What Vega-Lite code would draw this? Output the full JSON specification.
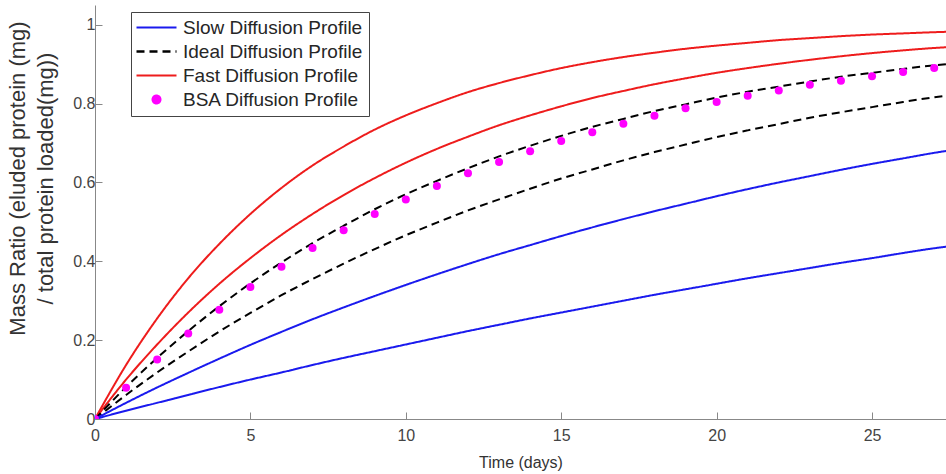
{
  "$schema": "https://vega.github.io/schema/vega-lite/v6.json",
  "width": 851,
  "height": 414,
  "autosize": {"type": "none"},
  "padding": {"left": 95, "top": 5, "right": 0, "bottom": 55},
  "background": "white",
  "config": {
    "view": {"stroke": null},
    "font": "Liberation Sans",
    "axis": {
      "labelFont": "Liberation Sans",
      "titleFont": "Liberation Sans",
      "domainColor": "#888888",
      "tickColor": "#888888",
      "labelColor": "#444444",
      "titleColor": "#333333",
      "labelFontSize": 16,
      "grid": false,
      "titleFontWeight": "normal"
    }
  },
  "datasets": {
    "curves": [
      {"t":0,"y":0,"s":"Fast","c":"FA"},{"t":1,"y":0.137,"s":"Fast","c":"FA"},{"t":2,"y":0.255,"s":"Fast","c":"FA"},{"t":3,"y":0.357,"s":"Fast","c":"FA"},{"t":4,"y":0.444,"s":"Fast","c":"FA"},{"t":5,"y":0.520,"s":"Fast","c":"FA"},{"t":6,"y":0.586,"s":"Fast","c":"FA"},{"t":7,"y":0.643,"s":"Fast","c":"FA"},{"t":8,"y":0.691,"s":"Fast","c":"FA"},{"t":9,"y":0.734,"s":"Fast","c":"FA"},{"t":10,"y":0.770,"s":"Fast","c":"FA"},{"t":11,"y":0.801,"s":"Fast","c":"FA"},{"t":12,"y":0.829,"s":"Fast","c":"FA"},{"t":13,"y":0.852,"s":"Fast","c":"FA"},{"t":14,"y":0.872,"s":"Fast","c":"FA"},{"t":15,"y":0.890,"s":"Fast","c":"FA"},{"t":16,"y":0.905,"s":"Fast","c":"FA"},{"t":17,"y":0.918,"s":"Fast","c":"FA"},{"t":18,"y":0.929,"s":"Fast","c":"FA"},{"t":19,"y":0.939,"s":"Fast","c":"FA"},{"t":20,"y":0.947,"s":"Fast","c":"FA"},{"t":21,"y":0.954,"s":"Fast","c":"FA"},{"t":22,"y":0.961,"s":"Fast","c":"FA"},{"t":23,"y":0.966,"s":"Fast","c":"FA"},{"t":24,"y":0.971,"s":"Fast","c":"FA"},{"t":25,"y":0.975,"s":"Fast","c":"FA"},{"t":26,"y":0.978,"s":"Fast","c":"FA"},{"t":27,"y":0.981,"s":"Fast","c":"FA"},{"t":27.4,"y":0.982,"s":"Fast","c":"FA"},
      {"t":0,"y":0,"s":"Fast","c":"FB"},{"t":1,"y":0.100,"s":"Fast","c":"FB"},{"t":2,"y":0.189,"s":"Fast","c":"FB"},{"t":3,"y":0.270,"s":"Fast","c":"FB"},{"t":4,"y":0.343,"s":"Fast","c":"FB"},{"t":5,"y":0.408,"s":"Fast","c":"FB"},{"t":6,"y":0.467,"s":"Fast","c":"FB"},{"t":7,"y":0.520,"s":"Fast","c":"FB"},{"t":8,"y":0.568,"s":"Fast","c":"FB"},{"t":9,"y":0.611,"s":"Fast","c":"FB"},{"t":10,"y":0.650,"s":"Fast","c":"FB"},{"t":11,"y":0.685,"s":"Fast","c":"FB"},{"t":12,"y":0.716,"s":"Fast","c":"FB"},{"t":13,"y":0.745,"s":"Fast","c":"FB"},{"t":14,"y":0.770,"s":"Fast","c":"FB"},{"t":15,"y":0.793,"s":"Fast","c":"FB"},{"t":16,"y":0.814,"s":"Fast","c":"FB"},{"t":17,"y":0.832,"s":"Fast","c":"FB"},{"t":18,"y":0.849,"s":"Fast","c":"FB"},{"t":19,"y":0.864,"s":"Fast","c":"FB"},{"t":20,"y":0.878,"s":"Fast","c":"FB"},{"t":21,"y":0.890,"s":"Fast","c":"FB"},{"t":22,"y":0.901,"s":"Fast","c":"FB"},{"t":23,"y":0.911,"s":"Fast","c":"FB"},{"t":24,"y":0.920,"s":"Fast","c":"FB"},{"t":25,"y":0.928,"s":"Fast","c":"FB"},{"t":26,"y":0.935,"s":"Fast","c":"FB"},{"t":27,"y":0.941,"s":"Fast","c":"FB"},{"t":27.4,"y":0.943,"s":"Fast","c":"FB"},
      {"t":0,"y":0,"s":"Ideal","c":"IA"},{"t":1,"y":0.081,"s":"Ideal","c":"IA"},{"t":2,"y":0.155,"s":"Ideal","c":"IA"},{"t":3,"y":0.223,"s":"Ideal","c":"IA"},{"t":4,"y":0.286,"s":"Ideal","c":"IA"},{"t":5,"y":0.344,"s":"Ideal","c":"IA"},{"t":6,"y":0.397,"s":"Ideal","c":"IA"},{"t":7,"y":0.446,"s":"Ideal","c":"IA"},{"t":8,"y":0.490,"s":"Ideal","c":"IA"},{"t":9,"y":0.532,"s":"Ideal","c":"IA"},{"t":10,"y":0.570,"s":"Ideal","c":"IA"},{"t":11,"y":0.604,"s":"Ideal","c":"IA"},{"t":12,"y":0.636,"s":"Ideal","c":"IA"},{"t":13,"y":0.666,"s":"Ideal","c":"IA"},{"t":14,"y":0.693,"s":"Ideal","c":"IA"},{"t":15,"y":0.718,"s":"Ideal","c":"IA"},{"t":16,"y":0.741,"s":"Ideal","c":"IA"},{"t":17,"y":0.761,"s":"Ideal","c":"IA"},{"t":18,"y":0.781,"s":"Ideal","c":"IA"},{"t":19,"y":0.798,"s":"Ideal","c":"IA"},{"t":20,"y":0.815,"s":"Ideal","c":"IA"},{"t":21,"y":0.830,"s":"Ideal","c":"IA"},{"t":22,"y":0.843,"s":"Ideal","c":"IA"},{"t":23,"y":0.856,"s":"Ideal","c":"IA"},{"t":24,"y":0.868,"s":"Ideal","c":"IA"},{"t":25,"y":0.878,"s":"Ideal","c":"IA"},{"t":26,"y":0.888,"s":"Ideal","c":"IA"},{"t":27,"y":0.897,"s":"Ideal","c":"IA"},{"t":27.4,"y":0.900,"s":"Ideal","c":"IA"},
      {"t":0,"y":0,"s":"Ideal","c":"IB"},{"t":1,"y":0.061,"s":"Ideal","c":"IB"},{"t":2,"y":0.118,"s":"Ideal","c":"IB"},{"t":3,"y":0.171,"s":"Ideal","c":"IB"},{"t":4,"y":0.222,"s":"Ideal","c":"IB"},{"t":5,"y":0.269,"s":"Ideal","c":"IB"},{"t":6,"y":0.314,"s":"Ideal","c":"IB"},{"t":7,"y":0.355,"s":"Ideal","c":"IB"},{"t":8,"y":0.394,"s":"Ideal","c":"IB"},{"t":9,"y":0.431,"s":"Ideal","c":"IB"},{"t":10,"y":0.466,"s":"Ideal","c":"IB"},{"t":11,"y":0.498,"s":"Ideal","c":"IB"},{"t":12,"y":0.529,"s":"Ideal","c":"IB"},{"t":13,"y":0.557,"s":"Ideal","c":"IB"},{"t":14,"y":0.584,"s":"Ideal","c":"IB"},{"t":15,"y":0.610,"s":"Ideal","c":"IB"},{"t":16,"y":0.633,"s":"Ideal","c":"IB"},{"t":17,"y":0.656,"s":"Ideal","c":"IB"},{"t":18,"y":0.677,"s":"Ideal","c":"IB"},{"t":19,"y":0.696,"s":"Ideal","c":"IB"},{"t":20,"y":0.715,"s":"Ideal","c":"IB"},{"t":21,"y":0.732,"s":"Ideal","c":"IB"},{"t":22,"y":0.748,"s":"Ideal","c":"IB"},{"t":23,"y":0.764,"s":"Ideal","c":"IB"},{"t":24,"y":0.778,"s":"Ideal","c":"IB"},{"t":25,"y":0.791,"s":"Ideal","c":"IB"},{"t":26,"y":0.804,"s":"Ideal","c":"IB"},{"t":27,"y":0.816,"s":"Ideal","c":"IB"},{"t":27.4,"y":0.820,"s":"Ideal","c":"IB"},
      {"t":0,"y":0,"s":"Slow","c":"SA"},{"t":1,"y":0.041,"s":"Slow","c":"SA"},{"t":2,"y":0.080,"s":"Slow","c":"SA"},{"t":3,"y":0.117,"s":"Slow","c":"SA"},{"t":4,"y":0.153,"s":"Slow","c":"SA"},{"t":5,"y":0.188,"s":"Slow","c":"SA"},{"t":6,"y":0.221,"s":"Slow","c":"SA"},{"t":7,"y":0.253,"s":"Slow","c":"SA"},{"t":8,"y":0.283,"s":"Slow","c":"SA"},{"t":9,"y":0.312,"s":"Slow","c":"SA"},{"t":10,"y":0.340,"s":"Slow","c":"SA"},{"t":11,"y":0.367,"s":"Slow","c":"SA"},{"t":12,"y":0.393,"s":"Slow","c":"SA"},{"t":13,"y":0.418,"s":"Slow","c":"SA"},{"t":14,"y":0.441,"s":"Slow","c":"SA"},{"t":15,"y":0.464,"s":"Slow","c":"SA"},{"t":16,"y":0.486,"s":"Slow","c":"SA"},{"t":17,"y":0.507,"s":"Slow","c":"SA"},{"t":18,"y":0.527,"s":"Slow","c":"SA"},{"t":19,"y":0.546,"s":"Slow","c":"SA"},{"t":20,"y":0.565,"s":"Slow","c":"SA"},{"t":21,"y":0.583,"s":"Slow","c":"SA"},{"t":22,"y":0.600,"s":"Slow","c":"SA"},{"t":23,"y":0.616,"s":"Slow","c":"SA"},{"t":24,"y":0.632,"s":"Slow","c":"SA"},{"t":25,"y":0.647,"s":"Slow","c":"SA"},{"t":26,"y":0.661,"s":"Slow","c":"SA"},{"t":27,"y":0.675,"s":"Slow","c":"SA"},{"t":27.4,"y":0.680,"s":"Slow","c":"SA"},
      {"t":0,"y":0,"s":"Slow","c":"SB"},{"t":1,"y":0.021,"s":"Slow","c":"SB"},{"t":2,"y":0.041,"s":"Slow","c":"SB"},{"t":3,"y":0.061,"s":"Slow","c":"SB"},{"t":4,"y":0.081,"s":"Slow","c":"SB"},{"t":5,"y":0.100,"s":"Slow","c":"SB"},{"t":6,"y":0.118,"s":"Slow","c":"SB"},{"t":7,"y":0.137,"s":"Slow","c":"SB"},{"t":8,"y":0.155,"s":"Slow","c":"SB"},{"t":9,"y":0.172,"s":"Slow","c":"SB"},{"t":10,"y":0.189,"s":"Slow","c":"SB"},{"t":11,"y":0.206,"s":"Slow","c":"SB"},{"t":12,"y":0.223,"s":"Slow","c":"SB"},{"t":13,"y":0.239,"s":"Slow","c":"SB"},{"t":14,"y":0.255,"s":"Slow","c":"SB"},{"t":15,"y":0.270,"s":"Slow","c":"SB"},{"t":16,"y":0.285,"s":"Slow","c":"SB"},{"t":17,"y":0.300,"s":"Slow","c":"SB"},{"t":18,"y":0.315,"s":"Slow","c":"SB"},{"t":19,"y":0.329,"s":"Slow","c":"SB"},{"t":20,"y":0.343,"s":"Slow","c":"SB"},{"t":21,"y":0.357,"s":"Slow","c":"SB"},{"t":22,"y":0.370,"s":"Slow","c":"SB"},{"t":23,"y":0.383,"s":"Slow","c":"SB"},{"t":24,"y":0.396,"s":"Slow","c":"SB"},{"t":25,"y":0.408,"s":"Slow","c":"SB"},{"t":26,"y":0.421,"s":"Slow","c":"SB"},{"t":27,"y":0.433,"s":"Slow","c":"SB"},{"t":27.4,"y":0.437,"s":"Slow","c":"SB"}
    ],
    "bsa": [
      {"t":0,"y":0,"s":"BSA"},{"t":1,"y":0.079,"s":"BSA"},{"t":2,"y":0.151,"s":"BSA"},{"t":3,"y":0.217,"s":"BSA"},{"t":4,"y":0.277,"s":"BSA"},{"t":5,"y":0.335,"s":"BSA"},{"t":6,"y":0.386,"s":"BSA"},{"t":7,"y":0.434,"s":"BSA"},{"t":8,"y":0.479,"s":"BSA"},{"t":9,"y":0.520,"s":"BSA"},{"t":10,"y":0.557,"s":"BSA"},{"t":11,"y":0.591,"s":"BSA"},{"t":12,"y":0.623,"s":"BSA"},{"t":13,"y":0.652,"s":"BSA"},{"t":14,"y":0.679,"s":"BSA"},{"t":15,"y":0.705,"s":"BSA"},{"t":16,"y":0.727,"s":"BSA"},{"t":17,"y":0.749,"s":"BSA"},{"t":18,"y":0.769,"s":"BSA"},{"t":19,"y":0.788,"s":"BSA"},{"t":20,"y":0.804,"s":"BSA"},{"t":21,"y":0.820,"s":"BSA"},{"t":22,"y":0.833,"s":"BSA"},{"t":23,"y":0.848,"s":"BSA"},{"t":24,"y":0.858,"s":"BSA"},{"t":25,"y":0.869,"s":"BSA"},{"t":26,"y":0.880,"s":"BSA"},{"t":27,"y":0.890,"s":"BSA"}
    ]
  },
  "encoding": {
    "x": {
      "field": "t", "type": "quantitative",
      "scale": {"domain": [0, 27.38], "nice": false, "zero": false},
      "axis": {
        "title": "Time (days)", "titleFontSize": 16, "titlePadding": 11,
        "values": [0, 5, 10, 15, 20, 25], "format": "d",
        "tickSize": -7, "labelPadding": 15, "labelFlush": false
      }
    },
    "y": {
      "field": "y", "type": "quantitative",
      "scale": {"domain": [0, 1.05], "nice": false},
      "axis": {
        "title": ["Mass Ratio (eluded protein (mg)", "/ total protein loaded(mg))"],
        "titleFontSize": 22, "titleLineHeight": 28,
        "titleX": -66, "titleY": 173, "titleAngle": -90, "titleBaseline": "bottom", "titleAlign": "center",
        "values": [0, 0.2, 0.4, 0.6, 0.8, 1], "format": ".1~f",
        "tickSize": -7, "labelPadding": 7
      }
    }
  },
  "layer": [
    {
      "data": {"name": "curves"},
      "mark": {"type": "line", "strokeWidth": 2, "interpolate": "monotone", "clip": true},
      "encoding": {
        "detail": {"field": "c"},
        "color": {
          "field": "s", "type": "nominal",
          "scale": {"domain": ["Slow", "Ideal", "Fast", "BSA"], "range": ["#1a1aee", "#000000", "#ee1c1c", "#ff00ff"]},
          "legend": {
            "title": null, "orient": "none", "legendX": 36, "legendY": 7,
            "fillColor": "#ffffff", "strokeColor": "#444444", "padding": 6,
            "labelFont": "Liberation Sans", "labelFontSize": 19, "labelColor": "#262626", "labelLimit": 400,
            "labelExpr": "datum.label + ' Diffusion Profile'",
            "symbolSize": 100, "symbolOffset": 10, "labelOffset": 17, "rowPadding": 4,
            "encode": {
              "symbols": {
                "update": {
                  "shape": {"signal": "datum.value === 'BSA' ? 'circle' : 'M-4,0H4'"},
                  "size": {"signal": "datum.value === 'BSA' ? 64 : 100"},
                  "strokeDash": {"signal": "datum.value === 'Ideal' ? [8,5] : [1,0]"},
                  "fill": {"signal": "datum.value === 'BSA' ? '#ff00ff' : 'transparent'"},
                  "stroke": {"signal": "datum.value === 'BSA' ? 'transparent' : datum.value === 'Slow' ? '#1a1aee' : datum.value === 'Ideal' ? '#000000' : '#ee1c1c'"},
                  "strokeWidth": {"signal": "datum.value === 'Ideal' ? 2.5 : 2"},
                  "opacity": {"value": 1}
                }
              }
            }
          }
        },
        "strokeDash": {
          "field": "s", "type": "nominal",
          "scale": {"domain": ["Slow", "Ideal", "Fast"], "range": [[1, 0], [8, 5], [1, 0]]},
          "legend": null
        },
        "strokeWidth": {
          "field": "s", "type": "nominal",
          "scale": {"domain": ["Slow", "Ideal", "Fast"], "range": [2, 2.5, 2]},
          "legend": null
        }
      }
    },
    {
      "data": {"name": "bsa"},
      "mark": {"type": "point", "filled": true, "size": 64, "opacity": 1, "clip": true},
      "encoding": {
        "color": {"field": "s", "type": "nominal"}
      }
    }
  ]
}
